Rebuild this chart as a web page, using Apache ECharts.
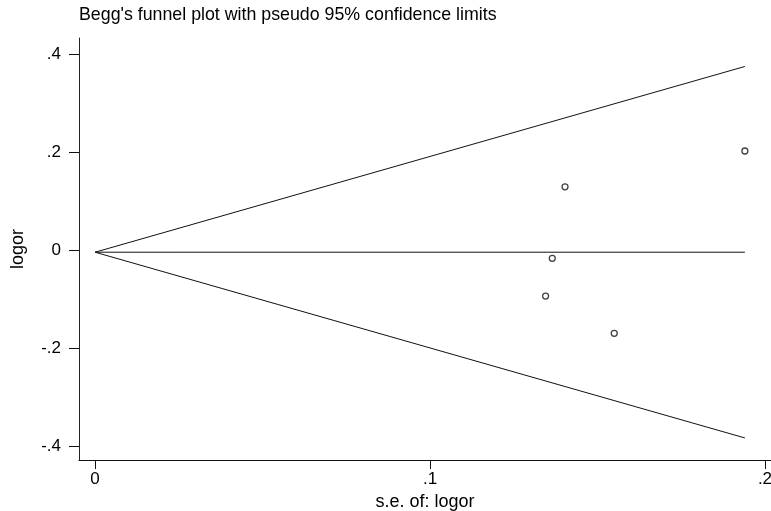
<!DOCTYPE html>
<html>
<head>
<meta charset="utf-8">
<script src="https://cdn.jsdelivr.net/npm/echarts@6/dist/echarts.min.js"></script>
<style>
  html, body { margin: 0; padding: 0; background: #fff; }
  #chart { width: 771px; height: 511px; }
</style>
</head>
<body>
<div id="chart"></div>
<script>
// Study estimates: standard error of log odds ratio and log odds ratio
const seLogor = [0.1403, 0.1940, 0.1365, 0.1345, 0.1550];
const logor = [0.129, 0.202, -0.017, -0.094, -0.170];

// Pooled estimate and pseudo 95% confidence limits at the largest s.e.
const pooled = -0.0045;
const seMax = 0.194;
const upperLimit = 0.3745;
const lowerLimit = -0.3835;

// Tick positions
const xTicks = [0, 0.1, 0.2];
const yTicks = [-0.4, -0.2, 0, 0.2, 0.4];

const fmt = v => {
  if (Math.abs(v) < 1e-9) return '0';
  const s = String(+v.toFixed(2));
  return s.replace(/^(-?)0\./, '$1.');
};

const points = seLogor.map((s, i) => [s, logor[i]]);
const font = '"Liberation Sans", Arial, sans-serif';

const chart = echarts.init(document.getElementById('chart'), null, { renderer: 'canvas' });
chart.setOption({
  animation: false,
  backgroundColor: '#fff',
  title: {
    text: "Begg's funnel plot with pseudo 95% confidence limits",
    left: 74, top: 1,
    textStyle: { fontFamily: font, fontSize: 17.8, fontWeight: 'normal', color: '#000' }
  },
  grid: { left: 79, right: 0, top: 38, bottom: 51, outerBoundsMode: 'none', containLabel: false },
  xAxis: {
    type: 'value',
    min: -0.0048, max: 0.2018,
    name: 's.e. of: logor',
    nameLocation: 'middle', nameGap: 25,
    nameTextStyle: { fontFamily: font, fontSize: 18, color: '#000' },
    axisLine: { onZero: false, lineStyle: { color: '#111', width: 1 } },
    axisTick: { show: true, length: 9, customValues: xTicks, lineStyle: { color: '#111' } },
    axisLabel: { customValues: xTicks, formatter: fmt, margin: 11, fontFamily: font, fontSize: 17, color: '#000', showMinLabel: true, showMaxLabel: true },
    splitLine: { show: false }
  },
  yAxis: {
    type: 'value',
    min: -0.4285, max: 0.4326,
    name: 'logor',
    nameLocation: 'middle', nameGap: 52, nameRotate: 90,
    nameTextStyle: { fontFamily: font, fontSize: 18, color: '#000' },
    axisLine: { show: true, onZero: false, lineStyle: { color: '#222', width: 1 } },
    axisTick: { show: true, length: 10, customValues: yTicks, lineStyle: { color: '#111' } },
    axisLabel: { customValues: yTicks, formatter: fmt, margin: 18, fontFamily: font, fontSize: 17, color: '#000' },
    splitLine: { show: false }
  },
  series: [
    {
      type: 'line', name: 'upper',
      data: [[0, pooled], [seMax, upperLimit]],
      symbol: 'none', silent: true,
      lineStyle: { color: '#111', width: 1 }
    },
    {
      type: 'line', name: 'lower',
      data: [[0, pooled], [seMax, lowerLimit]],
      symbol: 'none', silent: true,
      lineStyle: { color: '#111', width: 1 }
    },
    {
      type: 'line', name: 'pooled',
      data: [[0, pooled], [seMax, pooled]],
      symbol: 'none', silent: true,
      lineStyle: { color: '#111', width: 1 }
    },
    {
      type: 'scatter', name: 'studies',
      data: points,
      symbol: 'circle', symbolSize: 6,
      itemStyle: { color: '#fff', borderColor: '#111', borderWidth: 1.3 }
    }
  ]
});
</script>
</body>
</html>
